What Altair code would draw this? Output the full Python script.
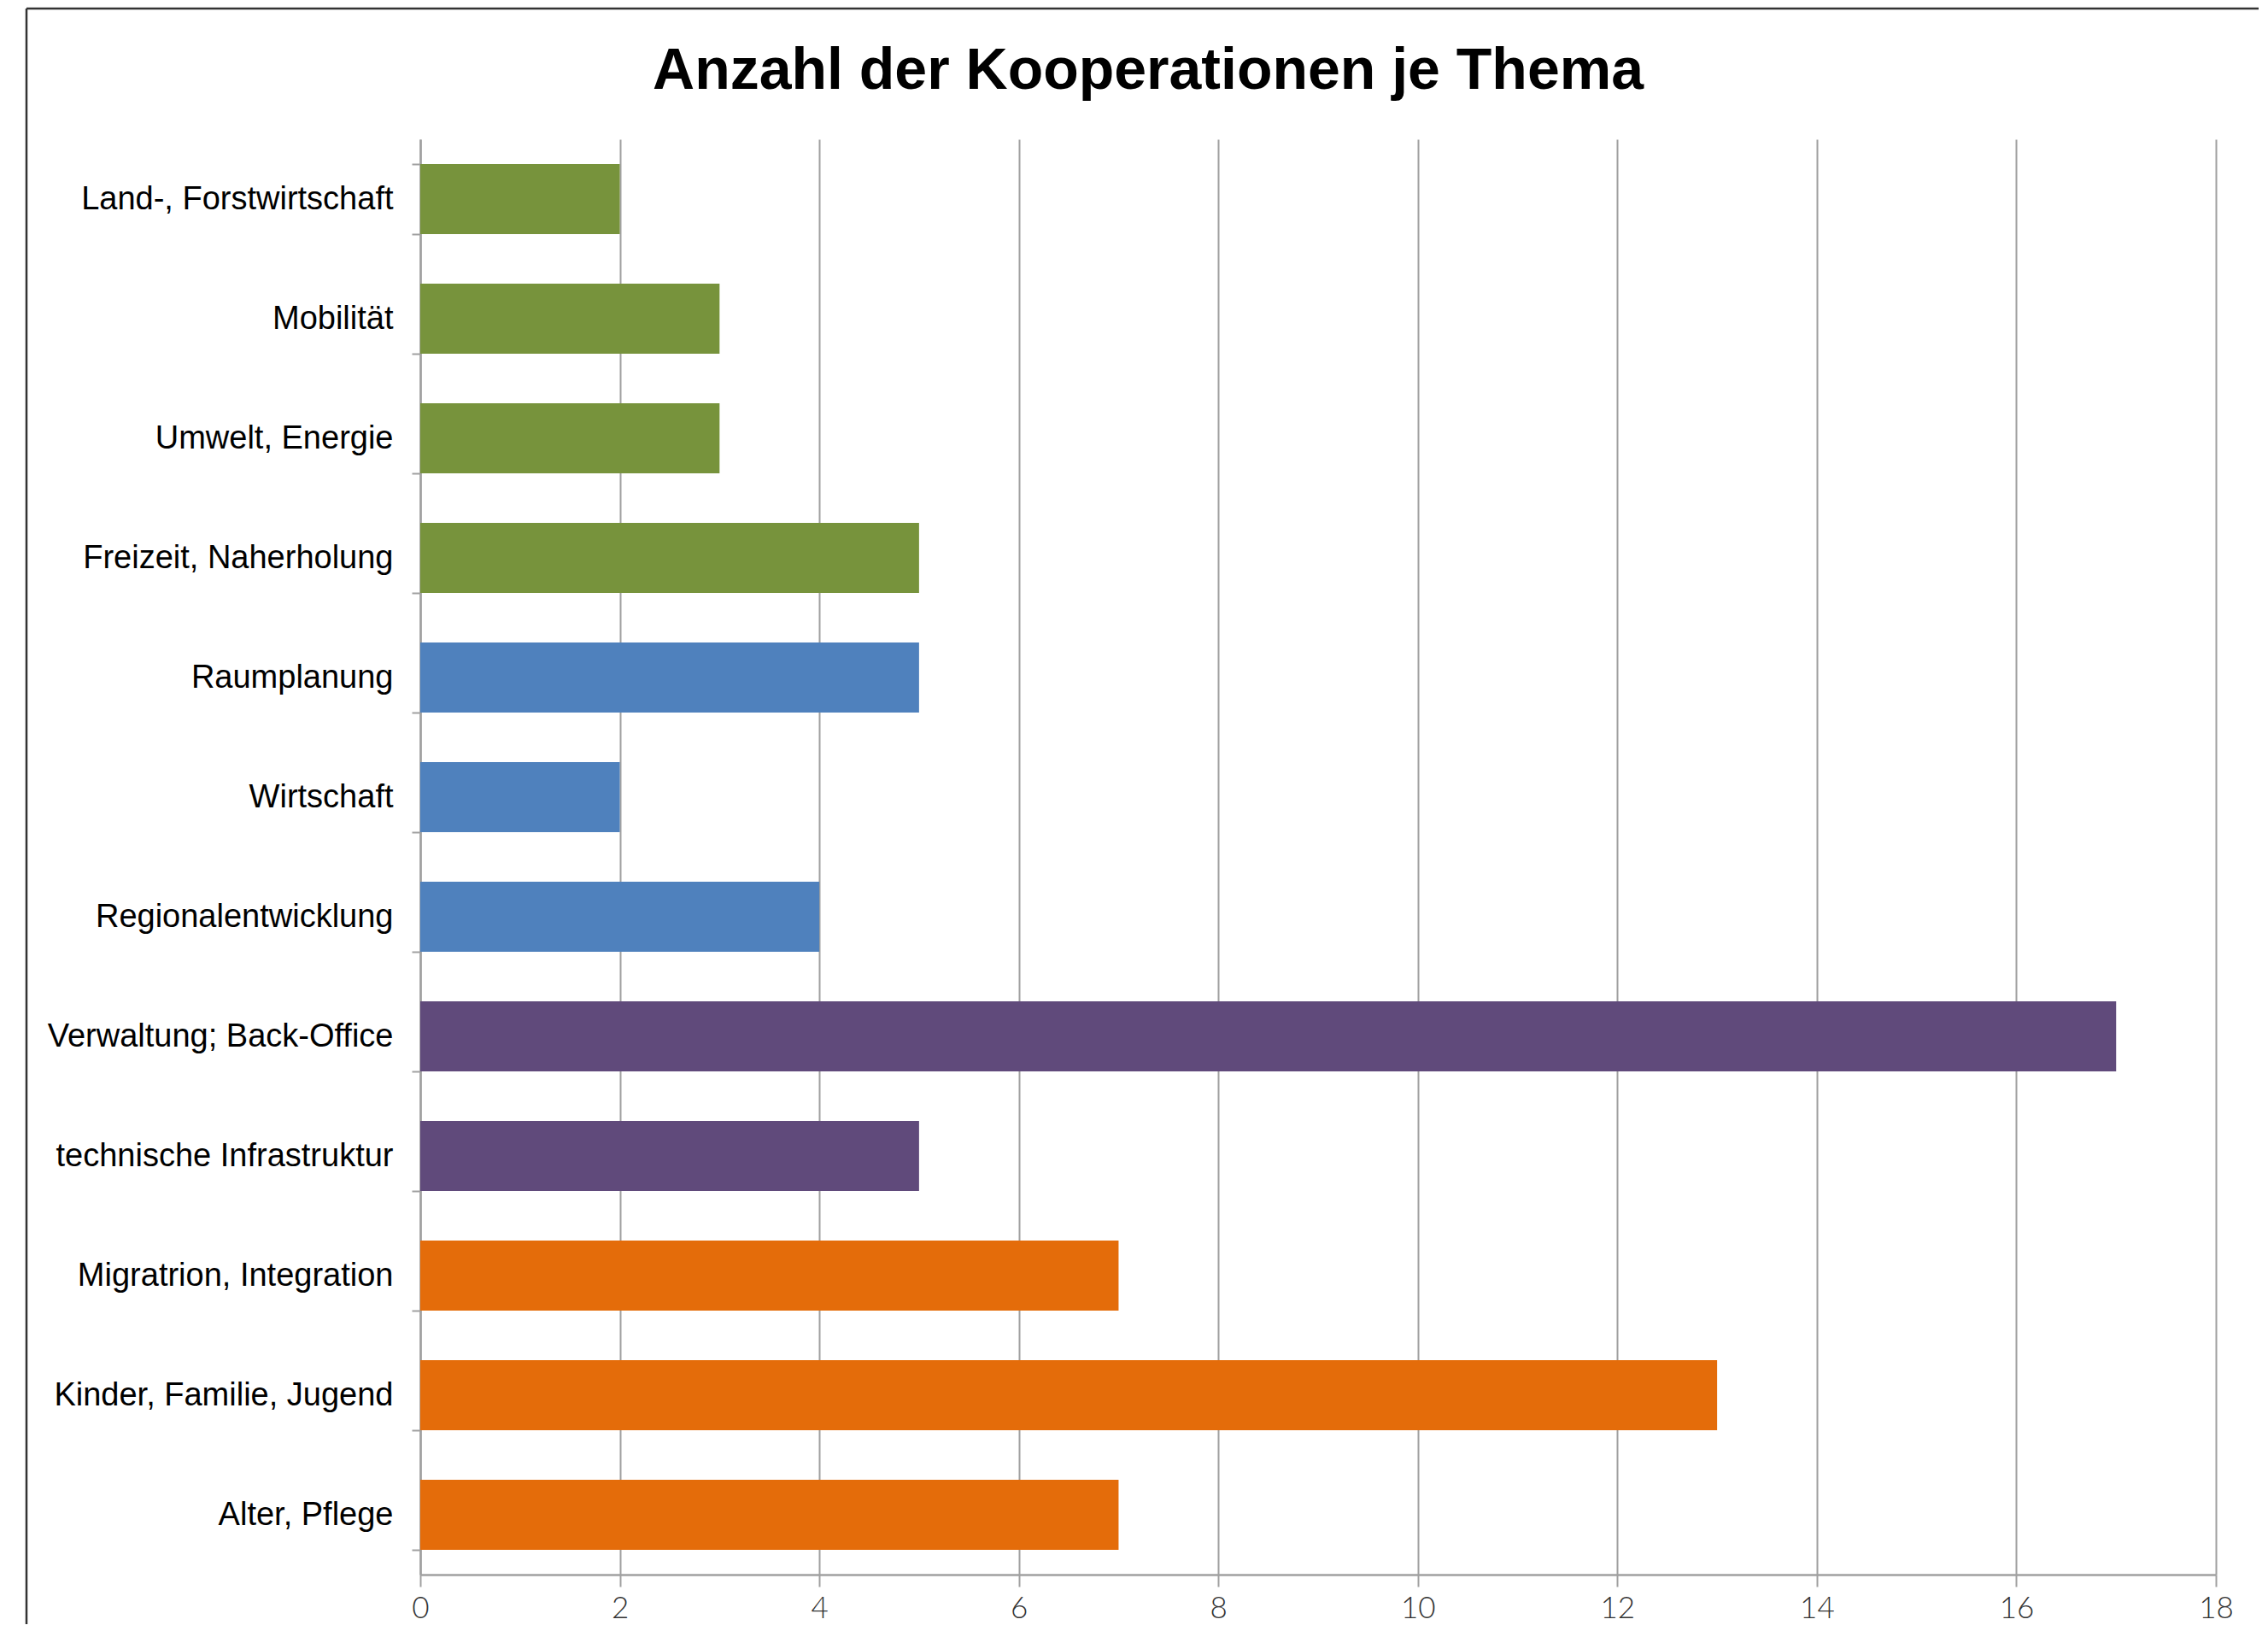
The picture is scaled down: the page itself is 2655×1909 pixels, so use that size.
import altair as alt
import pandas as pd

categories = [
    "Land-, Forstwirtschaft", "Mobilität", "Umwelt, Energie", "Freizeit, Naherholung",
    "Raumplanung", "Wirtschaft", "Regionalentwicklung", "Verwaltung; Back-Office",
    "technische Infrastruktur", "Migratrion, Integration", "Kinder, Familie, Jugend",
    "Alter, Pflege",
]
values = [2, 3, 3, 5, 5, 2, 4, 17, 5, 7, 13, 7]
groups = ["A", "A", "A", "A", "B", "B", "B", "C", "C", "D", "D", "D"]
group_names = ["A", "B", "C", "D"]
group_colors = ["#77933C", "#4F81BD", "#604A7B", "#E46C0A"]
x_ticks = [0, 2, 4, 6, 8, 10, 12, 14, 16, 18]
title_text = "Anzahl der Kooperationen je Thema"

df = pd.DataFrame({"Thema": categories, "Anzahl": values, "Gruppe": groups})
title_df = pd.DataFrame({"t": [title_text]})

W, H = 2102, 1680
PL, PT = 484, 155
X0, Y0 = PL + 8, PT + 8  # page position of plot origin
AXIS_GRAY = "#a0a0a0"

bars = alt.Chart(df).mark_bar().encode(
    y=alt.Y("Thema:N", sort=categories, title=None,
            scale=alt.Scale(paddingInner=0.415, paddingOuter=0.2075),
            axis=alt.Axis(tickBand="extent", tickSize=10, tickColor=AXIS_GRAY, tickWidth=2,
                          domainColor=AXIS_GRAY, domainWidth=2.5,
                          labelFont="Liberation Sans", labelFontSize=38, labelColor="#000000",
                          labelPadding=22, labelLimit=1000, grid=False)),
    x=alt.X("Anzahl:Q", title=None,
            scale=alt.Scale(domain=[0, 18], nice=False),
            axis=alt.Axis(values=x_ticks, grid=True, gridColor=AXIS_GRAY, gridWidth=2,
                          tickSize=14, tickColor=AXIS_GRAY, tickWidth=2,
                          domainColor=AXIS_GRAY, domainWidth=2.5, labelFlush=False,
                          labelFont="Lato", labelFontSize=35, labelColor="#333333",
                          labelFontWeight=300, labelPadding=8)),
    color=alt.Color("Gruppe:N", scale=alt.Scale(domain=group_names, range=group_colors), legend=None),
)

title_mark = alt.Chart(title_df).mark_text(
    font="Liberation Sans", fontSize=68, fontWeight="bold", color="#000000",
    align="center", baseline="alphabetic",
).encode(text="t:N", x=alt.value(1344 - X0), y=alt.value(104 - Y0))

frame_top = alt.Chart(title_df).mark_rule(color="#333333", strokeWidth=2.5).encode(
    x=alt.value(31 - X0), x2=alt.value(2700 - X0), y=alt.value(10 - Y0)
)
frame_left = alt.Chart(title_df).mark_rule(color="#333333", strokeWidth=2.5).encode(
    x=alt.value(31 - X0), y=alt.value(10 - Y0), y2=alt.value(2000 - Y0)
)

chart = alt.layer(bars, title_mark, frame_top, frame_left).properties(
    width=W, height=H,
    background="white",
    autosize=alt.AutoSizeParams(type="none"),
    padding={"left": PL, "top": PT, "right": 50, "bottom": 58},
).configure_view(stroke=None)

chart.save("out.html", embed_options={"renderer": "svg", "actions": False})
